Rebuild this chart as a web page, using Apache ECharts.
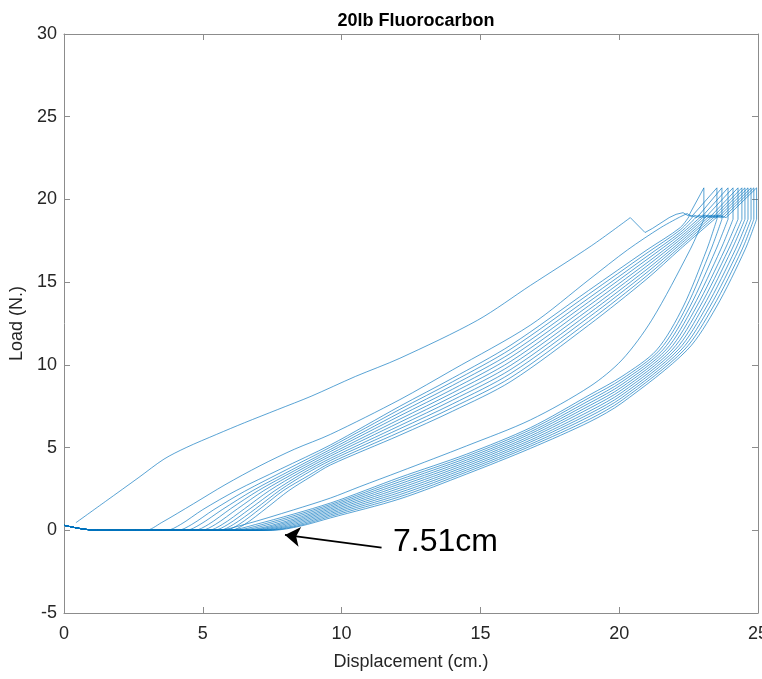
<!DOCTYPE html>
<html><head><meta charset="utf-8">
<script src="https://cdn.jsdelivr.net/npm/echarts@6/dist/echarts.min.js"></script>
<style>html,body{margin:0;padding:0;background:#fff}#c{width:762px;height:679px}</style>
</head><body><div id="c"></div>
<script>
const titleText = '20lb Fluorocarbon';
const xName = 'Displacement (cm.)';
const yName = 'Load (N.)';
const xAxisRange = [0, 25, 5];
const yAxisRange = [-5, 30, 5];
const annotationText = '7.51cm';
const arrowTail = [11.44, -1.05];
const arrowTip = [7.96, -0.28];
const annotationAnchor = [11.85, -0.7];

// zero-load slack path near the origin
const slackPath = [[0, 0.3], [0.6, 0.1], [1.2, 0]];

const load01 = [[0.43,0.46],[1.5,1.75],[2.7,3.2],[3.6,4.3],[4.4,5.0],[5.5,5.8],[6.5,6.5],[7.7,7.3],[8.9,8.1],[10.5,9.3],[12.1,10.4],[14.9,12.7],[16.8,14.8],[19.0,17.2],[20.4,18.9],[20.93,18.0],[21.2,18.25],[21.8,18.9],[22.05,19.1],[22.3,19.2],[22.5,19.0],[23.05,20.7],[23.05,18.8]];
const unload01 = [[22.55,16.95],[21.17,12.7],[20.1,10.3],[18.95,8.7],[16.8,6.67],[14.5,5.1],[12.1,3.55],[10.66,2.64],[9.6,1.95],[8.26,1.23],[6.5,0.35],[5.5,0],[3.0,0]];

const load02 = [[2.95,0],[3.5,0.45],[4.66,1.6],[5.8,2.75],[7.06,3.9],[8.3,4.9],[9.6,5.8],[12.1,7.9],[14.0,9.7],[16.8,12.4],[18.95,15.2],[20.3,16.95],[21.5,18.3],[22.2,18.95],[22.45,19.15],[22.6,18.95],[23.52,20.7],[23.52,18.8]];
const unload02 = [[23.15,16.95],[22.3,13.5],[21.35,10.9],[20.1,9.3],[18.95,8.2],[16.8,6.2],[14.5,4.6],[12.1,3.2],[9.6,1.65],[6.9,0.35],[5.9,0],[3.0,0]];

const load03 = [[3.7,0],[4.2,0.35],[5.0,1.25],[6.2,2.4],[7.8,3.7],[9.6,5.16],[12.1,7.5],[14.0,9.2],[16.1,11.2],[18.9,14.5],[21.0,16.95],[22.2,18.3],[22.55,19.05],[22.8,18.9],[23.7,20.7],[23.7,18.8]];
const unload03 = [[23.3,16.95],[22.42,13.5],[21.46,10.9],[20.1,9.14],[18.95,8.04],[16.8,6.08],[14.5,4.48],[12.1,3.07],[9.6,1.56],[7.1,0.33],[6.1,0],[3.0,0]];

const load04 = [[4.1,0],[4.6,0.35],[5.4,1.25],[6.5,2.35],[8.0,3.65],[9.6,5.03],[12.1,7.31],[14.0,8.98],[16.1,10.96],[18.9,14.27],[21.0,16.76],[22.2,18.16],[22.7,19.05],[22.95,18.9],[23.92,20.7],[23.92,18.8]];
const unload04 = [[23.48,16.95],[22.54,13.5],[21.57,10.9],[20.1,8.98],[18.95,7.87],[16.8,5.95],[14.5,4.36],[12.1,2.94],[9.6,1.47],[7.3,0.32],[6.3,0],[3.0,0]];

const load05 = [[4.4,0],[4.9,0.35],[5.7,1.25],[6.8,2.4],[8.2,3.65],[9.6,4.89],[12.1,7.11],[14.0,8.76],[16.1,10.71],[18.9,14.03],[21.0,16.56],[22.2,18.01],[22.85,19.05],[23.1,18.9],[24.1,20.7],[24.1,18.8]];
const unload05 = [[23.65,16.95],[22.66,13.5],[21.68,10.9],[20.1,8.82],[18.95,7.71],[16.8,5.83],[14.5,4.24],[12.1,2.81],[9.6,1.38],[7.5,0.31],[6.5,0],[3.0,0]];

const load06 = [[4.7,0],[5.2,0.35],[6.0,1.3],[7.0,2.4],[8.3,3.6],[9.6,4.76],[12.1,6.92],[14.0,8.53],[16.1,10.47],[18.9,13.8],[21.0,16.37],[22.2,17.87],[23.0,19.05],[23.25,18.9],[24.28,20.7],[24.28,18.8]];
const unload06 = [[23.8,16.95],[22.78,13.5],[21.79,10.9],[20.1,8.66],[18.95,7.55],[16.8,5.7],[14.5,4.12],[12.1,2.68],[9.6,1.29],[7.65,0.3],[6.65,0],[3.0,0]];

const load07 = [[4.95,0],[5.45,0.35],[6.25,1.3],[7.2,2.4],[8.4,3.55],[9.6,4.62],[12.1,6.72],[14.0,8.31],[16.1,10.22],[18.9,13.57],[21.0,16.17],[22.2,17.72],[23.1,19.05],[23.35,18.9],[24.42,20.7],[24.42,18.8]];
const unload07 = [[23.93,16.95],[22.9,13.5],[21.9,10.9],[20.1,8.5],[18.95,7.39],[16.8,5.58],[14.5,4.0],[12.1,2.55],[9.6,1.2],[7.8,0.29],[6.8,0],[3.0,0]];

const load08 = [[5.2,0],[5.7,0.35],[6.5,1.3],[7.4,2.4],[8.5,3.5],[9.6,4.49],[12.1,6.53],[14.0,8.09],[16.1,9.98],[18.9,13.33],[21.0,15.98],[22.2,17.58],[23.2,19.05],[23.45,18.9],[24.53,20.7],[24.53,18.8]];
const unload08 = [[24.05,16.95],[23.02,13.5],[22.01,10.9],[20.1,8.34],[18.95,7.22],[16.8,5.45],[14.5,3.88],[12.1,2.42],[9.6,1.11],[7.95,0.28],[6.95,0],[3.0,0]];

const load09 = [[5.4,0],[5.9,0.35],[6.7,1.3],[7.6,2.4],[8.6,3.45],[9.6,4.35],[12.1,6.33],[14.0,7.87],[16.1,9.73],[18.9,13.1],[21.0,15.78],[22.2,17.43],[23.3,19.05],[23.55,18.9],[24.64,20.7],[24.64,18.8]];
const unload09 = [[24.18,16.95],[23.14,13.5],[22.12,10.9],[20.1,8.18],[18.95,7.06],[16.8,5.33],[14.5,3.76],[12.1,2.29],[9.6,1.02],[8.1,0.27],[7.1,0],[3.0,0]];

const load10 = [[5.6,0],[6.1,0.35],[6.9,1.3],[7.8,2.45],[8.7,3.4],[9.6,4.22],[12.1,6.14],[14.0,7.64],[16.1,9.49],[18.9,12.87],[21.0,15.59],[22.2,17.29],[23.4,19.05],[23.65,18.9],[24.75,20.7],[24.75,18.8]];
const unload10 = [[24.3,16.95],[23.26,13.5],[22.23,10.9],[20.1,8.02],[18.95,6.9],[16.8,5.2],[14.5,3.64],[12.1,2.16],[9.6,0.93],[8.25,0.26],[7.25,0],[3.0,0]];

const load11 = [[5.8,0],[6.3,0.35],[7.1,1.35],[7.9,2.4],[8.8,3.3],[9.6,4.08],[12.1,5.94],[14.0,7.42],[16.1,9.24],[18.9,12.63],[21.0,15.39],[22.2,17.14],[23.5,19.05],[23.75,18.9],[24.85,20.7],[24.85,18.8]];
const unload11 = [[24.42,16.95],[23.38,13.5],[22.34,10.9],[20.1,7.86],[18.95,6.73],[16.8,5.08],[14.5,3.52],[12.1,2.03],[9.6,0.84],[8.38,0.25],[7.38,0],[3.0,0]];

const load12 = [[6.0,0],[6.5,0.35],[7.3,1.35],[8.1,2.4],[8.9,3.25],[9.6,3.95],[12.1,5.75],[14.0,7.2],[16.1,9.0],[18.9,12.4],[21.0,15.2],[22.2,17.0],[23.6,19.05],[23.85,18.9],[24.95,20.7],[24.95,18.8]];
const unload12 = [[24.53,16.95],[23.5,13.5],[22.45,10.9],[20.1,7.7],[18.95,6.57],[16.8,4.95],[14.5,3.4],[12.1,1.9],[9.6,0.75],[8.51,0.25],[7.51,0],[3.0,0]];

const cycles = [
  [load01, unload01], [load02, unload02], [load03, unload03], [load04, unload04],
  [load05, unload05], [load06, unload06], [load07, unload07], [load08, unload08],
  [load09, unload09], [load10, unload10], [load11, unload11], [load12, unload12]
];

const FONT = '"Liberation Sans", Arial, Helvetica, sans-serif';
const lineColor = '#0072BD';
const axisGray = '#8c8c8c';
const labelColor = '#262626';

function lineSeries(pts, smooth) {
  return {
    type: 'line', data: pts, showSymbol: false, symbol: 'none', smooth: smooth,
    lineStyle: { color: lineColor, width: 1, opacity: 0.65 },
    silent: true, animation: false, z: 2
  };
}
const slackBack = slackPath.slice().reverse();
const series = [];
cycles.forEach(function (c, i) {
  const load = c[0], unload = c[1];
  let k = load.findIndex(function (p) { return p[1] >= 18.9; });
  const body = (i === 0 ? [] : slackPath).concat(load.slice(0, k + 1));
  const top = load.slice(k);
  const down = [load[load.length - 1]].concat(unload, slackBack);
  series.push(lineSeries(body, 0.3));
  series.push(lineSeries(top, false));
  series.push(lineSeries(down, 0.3));
});
series[0].markLine = {
  silent: true, animation: false,
  symbol: ['none', 'arrow'], symbolSize: 15,
  lineStyle: { color: '#000', width: 1.6, type: 'solid', opacity: 1 },
  label: { show: false },
  data: [[{ coord: arrowTail }, { coord: arrowTip }]]
};

function mkX(pos, show) {
  return {
    type: 'value', position: pos, min: xAxisRange[0], max: xAxisRange[1], interval: xAxisRange[2],
    axisLine: { show: true, onZero: false, lineStyle: { color: axisGray, width: 1 } },
    axisTick: { show: true, inside: true, length: 6, lineStyle: { color: axisGray } },
    axisLabel: { show: show, color: labelColor, fontSize: 18, fontFamily: FONT, margin: 12, showMaxLabel: true, showMinLabel: true, hideOverlap: false },
    splitLine: { show: false },
    name: show ? xName : '', nameLocation: 'middle', nameGap: 40,
    nameTextStyle: { color: labelColor, fontSize: 18, fontFamily: FONT }
  };
}
function mkY(pos, show) {
  return {
    type: 'value', position: pos, min: yAxisRange[0], max: yAxisRange[1], interval: yAxisRange[2],
    axisLine: { show: true, onZero: false, lineStyle: { color: axisGray, width: 1 } },
    axisTick: { show: true, inside: true, length: 6, lineStyle: { color: axisGray } },
    axisLabel: { show: show, color: labelColor, fontSize: 18, fontFamily: FONT, margin: 7 },
    splitLine: { show: false },
    name: show ? yName : '', nameLocation: 'middle', nameGap: 35, nameRotate: 90,
    nameTextStyle: { color: labelColor, fontSize: 18, fontFamily: FONT }
  };
}

const chart = echarts.init(document.getElementById('c'), null, { renderer: 'canvas' });
chart.setOption({
  animation: false,
  backgroundColor: '#fff',
  title: {
    text: titleText, left: 411, top: 7, textAlign: 'center',
    textStyle: { fontSize: 18, fontWeight: 'bold', color: '#000', fontFamily: FONT }
  },
  grid: { left: 64, right: 4, top: 34, bottom: 66, containLabel: false, outerBoundsMode: 'none' },
  xAxis: [mkX('bottom', true), mkX('top', false)],
  yAxis: [mkY('left', true), mkY('right', false)],
  series: series
});
const p = chart.convertToPixel({ xAxisIndex: 0, yAxisIndex: 0 }, annotationAnchor);
chart.setOption({
  graphic: [{
    type: 'text', x: p[0], y: p[1], z: 10, silent: true,
    style: { text: annotationText, fontSize: 32, fontFamily: FONT, fill: '#000', align: 'left', verticalAlign: 'middle' }
  }]
});
</script></body></html>
